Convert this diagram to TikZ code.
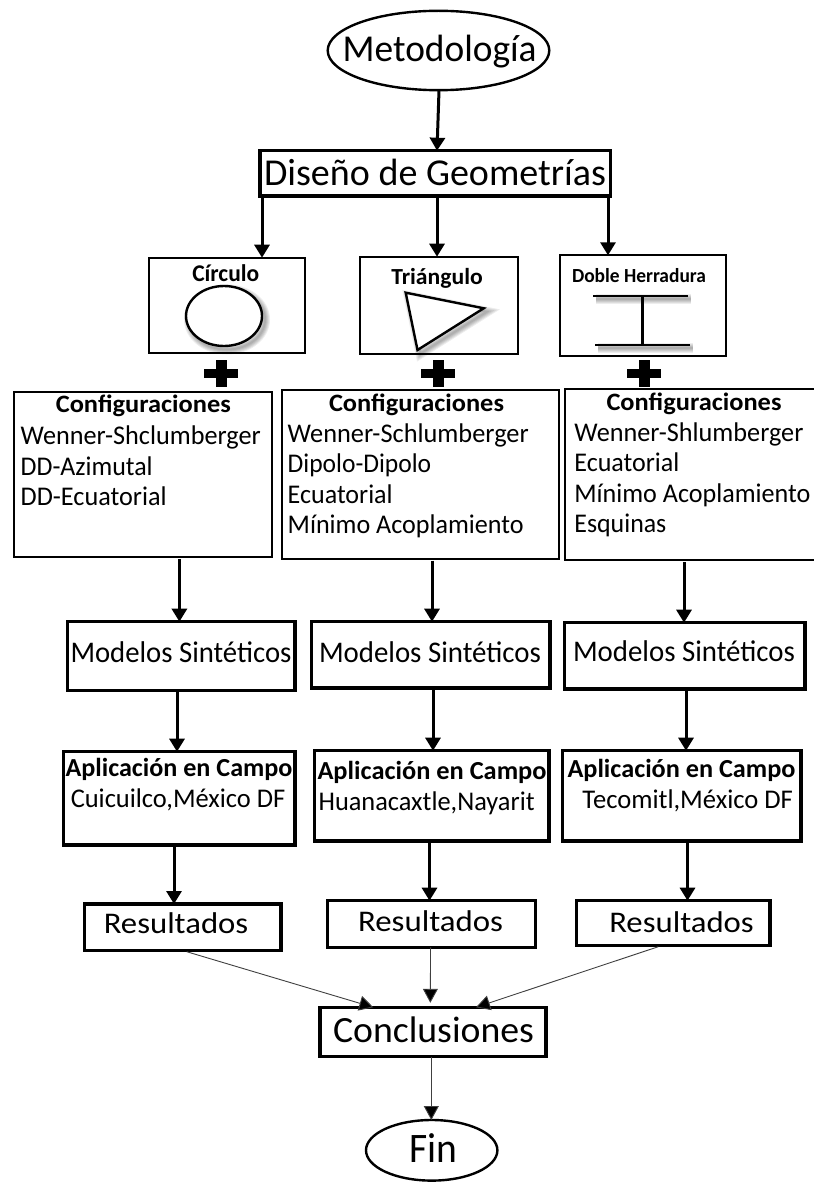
\documentclass[tikz,border=0pt]{standalone}
\usepackage{fontspec}
\setmainfont{Carlito}
\usetikzlibrary{arrows.meta,shapes.geometric}
\newsavebox{\fitbox}
\newcommand{\fitw}[3]{\sbox{\fitbox}{\fontsize{#2}{#2}\selectfont #3}\pgfmathsetmacro{\fitr}{#1/\wd\fitbox}\scalebox{\fitr}[1]{\usebox{\fitbox}}}
% \bx{name}{style}{left}{top}{right}{bottom}
\newcommand{\bx}[6]{\node[#2,minimum width={(#5-#3)*1pt},minimum height={(#6-#4)*1pt}] (#1) at ({(#3+#5)/2},{(#4+#6)/2}) {};}
\newcommand{\plusmark}[2]{\fill (#1-17,#2-4.5) rectangle (#1+17,#2+4.5); \fill (#1-5.5,#2-13.5) rectangle (#1+5.5,#2+13.5);}
\tikzset{
 x=1pt,y=-1pt,
 thinbox/.style={draw,rectangle,line width=2pt,inner sep=0pt,outer sep=0pt},
 thickbox/.style={draw,rectangle,line width=3.5pt,inner sep=0pt,outer sep=0pt},
 oval/.style={draw,ellipse,line width=2.4pt,inner sep=0pt,outer sep=0pt},
 tc/.style={inner sep=0pt,outer sep=0pt,anchor=base},
 tl/.style={inner sep=0pt,outer sep=0pt,anchor=base west},
 arr/.style={line width=3pt,-{Triangle[width=15pt,length=13pt]}},
 fine/.style={line width=0.9pt,draw=black!75,-{Triangle[width=15pt,length=14pt,fill=black]}},
 sketch/.style={line width=2.4pt,line join=miter},
}
\newcommand{\softshadow}[1]{\foreach \w in {10,8,6,4,2}{\draw[black,opacity=.07,line width=\w pt,shift={(3,3.5)}] #1;}}
\begin{document}
\begin{tikzpicture}
\useasboundingbox (0,0) rectangle (813,1182);
\fill[white] (0,0) rectangle (813,1182);

% ovals
\node[oval,minimum width=221.6pt,minimum height=79.4pt] (met) at (438.5,50.5) {};
\node[oval,minimum width=131.4pt,minimum height=60.6pt] (fin) at (431.7,1150.3) {};

% boxes
\bx{dis}{thickbox}{260}{150.7}{610.7}{196}
\bx{sa}{thinbox}{149}{257.7}{305}{352.7}
\bx{sb}{thinbox}{359.5}{256.7}{518}{353.7}
\bx{sc}{thinbox}{560}{255.3}{726}{356}
\bx{ca}{thinbox}{13.5}{392.3}{272}{557}
\bx{cb}{thinbox}{282}{389.7}{559}{558.7}
\bx{cc}{thinbox}{565}{389}{825}{560}
\bx{ma}{thickbox}{67.5}{621.7}{294.8}{690.3}
\bx{mb}{thickbox}{311.3}{621.7}{549.8}{688}
\bx{mc}{thickbox}{564.4}{622.7}{805}{689}
\bx{aa}{thickbox}{63.7}{751.7}{295}{845}
\bx{ab}{thickbox}{314.6}{750.7}{549}{841}
\bx{ac}{thickbox}{562.7}{750.7}{801}{841}
\bx{ra}{thickbox}{84.4}{904}{281}{950.7}
\bx{rb}{thickbox}{327.5}{900.7}{535.6}{947.3}
\bx{rc}{thickbox}{576.5}{900.7}{770}{945.7}
\bx{con}{thickbox}{320}{1007.3}{546}{1056.7}

% column x positions
\coordinate (xa) at (262,0);
\coordinate (xb) at (437,0);
\coordinate (xc) at (608,0);

% connectors
\draw[arr] ([xshift=0.5pt]met.south) -- (dis.north -| xb);
\draw[arr] (dis.south -| xa) -- (sa.north -| xa);
\draw[arr] (dis.south -| xb) -- (sb.north -| xb);
\draw[arr] (dis.south -| xc) -- (sc.north -| xc);
\coordinate (ya) at (179.4,0);
\coordinate (yb) at (432,0);
\coordinate (yc) at (684,0);
\draw[arr,shorten <=2pt] (ca.south -| ya) -- (ma.north -| ya);
\draw[arr,shorten <=2pt] (cb.south -| yb) -- (mb.north -| yb);
\draw[arr,shorten <=2pt] (cc.south -| yc) -- (mc.north -| yc);
\coordinate (za) at (177,0);
\coordinate (zb) at (433,0);
\coordinate (zc) at (686,0);
\draw[arr] (ma.south -| za) -- (aa.north -| za);
\draw[arr] (mb.south -| zb) -- (ab.north -| zb);
\draw[arr] (mc.south -| zc) -- (ac.north -| zc);
\coordinate (wa) at (174,0);
\coordinate (wb) at (429.5,0);
\coordinate (wc) at (687.5,0);
\draw[arr] (aa.south -| wa) -- (ra.north -| wa);
\draw[arr] (ab.south -| wb) -- (rb.north -| wb);
\draw[arr] (ac.south -| wc) -- (rc.north -| wc);
\coordinate (ra0) at (186.7,951.7);
\coordinate (rc0) at (658.3,946.7);
\draw[fine] (ra0) -- ([xshift=-59.7pt]con.north);
\draw[fine,shorten >=4.5pt] ([xshift=-1pt]rb.south) -- ([xshift=-2.7pt]con.north);
\draw[fine] (rc0) -- ([xshift=43pt]con.north);
\draw[fine] ([xshift=-1.7pt]con.south) -- ([xshift=-0.4pt]fin.north);

% shapes inside the small boxes
\softshadow{(224,316) ellipse [x radius=38,y radius=30]}
\draw[sketch,fill=white] (224,316) ellipse [x radius=38,y radius=30];
\softshadow{(405.7,292.7) -- (483.7,308.3) -- (417.5,350) -- cycle}
\draw[sketch,fill=white] (405.7,292.7) -- (483.7,308.3) -- (417.5,350) -- cycle;
\softshadow{(593,295.7) -- (687.5,295.7)}
\softshadow{(595,344.7) -- (690,344.7)}
\draw[sketch] (593,295.7) -- (687.5,295.7);
\draw[sketch] (595,344.7) -- (690,344.7);
\draw[sketch] (642.6,295.7) -- (642.6,344.7);

% plus signs
\plusmark{221}{373.3}
\plusmark{438}{373}
\plusmark{644}{373}

% texts
\node[tc] (tmet) at (439.7,61.7) {\fitw{194}{38}{Metodología}};
\node[tc] (tdis) at (435,185.7) {\fitw{342}{38}{Diseño de Geometrías}};
\node[tc] (tsa) at (225.8,281) {\fitw{67}{24}{\bfseries Círculo}};
\node[tc] (tsb) at (437,284.3) {\fitw{91.5}{23}{\bfseries Triángulo}};
\node[tc] (tsc) at (639,282) {\fitw{134}{20}{\bfseries Doble Herradura}};

\node[tc] (ha) at (143.3,412.7) {\fitw{175}{25}{\bfseries Configuraciones}};
\node[tl] (a1) at (20.7,444) {\fitw{240}{27}{Wenner-Shclumberger}};
\node[tl] (a2) at (20.7,475) {\fitw{132}{27}{DD-Azimutal}};
\node[tl] (a3) at (20.7,505) {\fitw{146}{27}{DD-Ecuatorial}};

\node[tc] (hb) at (416.5,411) {\fitw{175}{25}{\bfseries Configuraciones}};
\node[tl] (b1) at (287.7,442.3) {\fitw{241}{27}{Wenner-Schlumberger}};
\node[tl] (b2) at (287.7,472) {\fitw{143.6}{27}{Dipolo-Dipolo}};
\node[tl] (b3) at (287.7,503.3) {\fitw{105}{27}{Ecuatorial}};
\node[tl] (b4) at (287.7,533.3) {\fitw{236}{27}{Mínimo Acoplamiento}};

\node[tc] (hc) at (694,410) {\fitw{175}{25}{\bfseries Configuraciones}};
\node[tl] (c1) at (574.4,441.7) {\fitw{229}{27}{Wenner-Shlumberger}};
\node[tl] (c2) at (574.4,471.7) {\fitw{105}{27}{Ecuatorial}};
\node[tl] (c3) at (574.4,502.3) {\fitw{236}{27}{Mínimo Acoplamiento}};
\node[tl] (c4) at (574.4,532.7) {\fitw{92}{27}{Esquinas}};

\node[tc] (tma) at (181,662.7) {\fitw{221}{30}{Modelos Sintéticos}};
\node[tc] (tmb) at (430,662.3) {\fitw{222}{30}{Modelos Sintéticos}};
\node[tc] (tmc) at (684,661) {\fitw{222}{30}{Modelos Sintéticos}};

\node[tc] (taa) at (179,776) {\fitw{227}{26}{\bfseries Aplicación en Campo}};
\node[tc] (tab) at (432,779.3) {\fitw{229}{26}{\bfseries Aplicación en Campo}};
\node[tc] (tac) at (681.5,777.3) {\fitw{228}{26}{\bfseries Aplicación en Campo}};
\node[tc] (saa) at (178,807.3) {\fitw{214.5}{27}{Cuicuilco,México DF}};
\node[tc] (sab) at (426.6,810.7) {\fitw{216}{27}{Huanacaxtle,Nayarit}};
\node[tc] (sac) at (687.7,808.3) {\fitw{210.5}{27}{Tecomitl,México DF}};

\node[tc] (tra) at (176,933.3) {\fitw{144.5}{30}{Resultados}};
\node[tc] (trb) at (430.6,931) {\fitw{145}{30}{Resultados}};
\node[tc] (trc) at (681.5,932.3) {\fitw{144.5}{30}{Resultados}};

\node[tc] (tcon) at (433.5,1042.3) {\fitw{201}{37}{Conclusiones}};
\node[tc] (tfin) at (433,1162.7) {\fitw{48}{42}{Fin}};
\end{tikzpicture}
\end{document}
